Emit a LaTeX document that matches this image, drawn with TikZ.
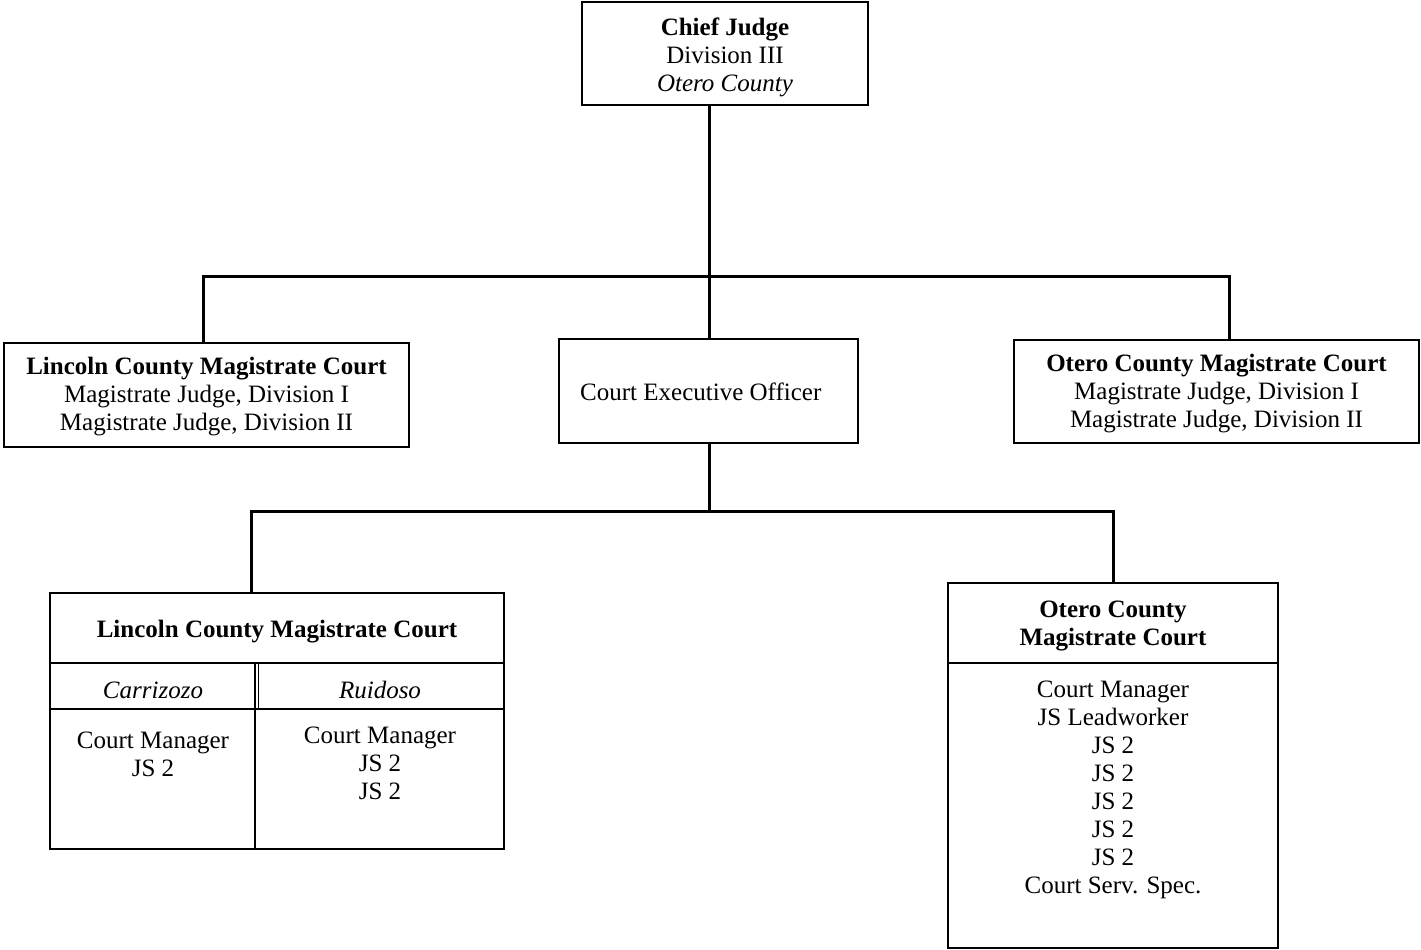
\documentclass[tikz,border=0pt]{standalone}
\usepackage{fontspec}
\setmainfont{Liberation Serif}
\begin{document}
\begin{tikzpicture}[x=1pt,y=-1pt,
  box/.style={draw, line width=1.6pt, inner sep=0pt, rectangle},
  conn/.style={line width=3pt, line join=miter},
  txt/.style={font=\fontsize{25}{28}\selectfont, align=center, inner sep=0pt},
  rule/.style={line width=1.6pt}]
\useasboundingbox (0,0) rectangle (1421,950);
\fill[white] (0,0) rectangle (1421,950);

% boxes
\node[box, minimum width=286pt, minimum height=103pt] (chief) at (725,53.5) {};
\node[txt] (chieft) at (725,57) {\textbf{Chief Judge}\\Division III\\\textit{Otero County}};

\node[box, minimum width=405pt, minimum height=104pt] (lincoln) at (206.5,395) {};
\node[txt] (lincolnt) at (206.5,397) {\textbf{Lincoln County Magistrate Court}\\Magistrate Judge, Division I\\Magistrate Judge, Division II};

\node[box, minimum width=299pt, minimum height=104pt] (ceo) at (708.5,391) {};
\node[txt, anchor=west] (ceot) at (580,392) {Court Executive Officer};

\node[box, minimum width=405pt, minimum height=103pt] (otero) at (1216.5,391.5) {};
\node[txt] (oterot) at (1216.5,394) {\textbf{Otero County Magistrate Court}\\Magistrate Judge, Division I\\Magistrate Judge, Division II};

% Lincoln bottom table
\node[box, minimum width=454pt, minimum height=256pt] (lb) at (277,721) {};
\draw[rule] (50,663) -- (504,663);
\draw[rule] (50,709) -- (504,709);
\draw[rule] (255,663) -- (255,849);
\draw[rule] (258.5,663) -- (258.5,709);
\node[txt] (lbh) at (277,632) {\textbf{Lincoln County Magistrate Court}};
\node[txt] (carr) at (153,690) {\textit{Carrizozo}};
\node[txt] (ruid) at (380,690) {\textit{Ruidoso}};
\node[txt, anchor=north] (carrb) at (153,732) {Court Manager\\JS 2};
\node[txt, anchor=north] (ruidb) at (380,727) {Court Manager\\JS 2\\JS 2};

% Otero bottom
\node[box, minimum width=330pt, minimum height=365pt] (ob) at (1113,765.5) {};
\draw[rule] (948,663) -- (1278,663);
\node[txt] (obh) at (1113,626) {\textbf{Otero County}\\\textbf{Magistrate Court}};
\node[txt, anchor=north] (obb) at (1113,681) {Court Manager\\JS Leadworker\\JS 2\\JS 2\\JS 2\\JS 2\\JS 2\\Court Serv. Spec.};

% connectors
\coordinate (j1) at (709,276);
\coordinate (l1) at (203,276);
\coordinate (o1) at (1229,276);
\coordinate (j2) at (709,511);
\coordinate (l2) at (251,511);
\coordinate (o2) at (1113,511);
\draw[conn] (chief.south -| j1) -- (ceo.north -| j1);
\draw[conn] (l1 |- lincoln.north) -- (l1) -- (o1) -- (o1 |- otero.north);
\draw[conn] (ceo.south -| j2) -- (j2);
\draw[conn] (l2 |- lb.north) -- (l2) -- (o2) -- (o2 |- ob.north);
\end{tikzpicture}
\end{document}
